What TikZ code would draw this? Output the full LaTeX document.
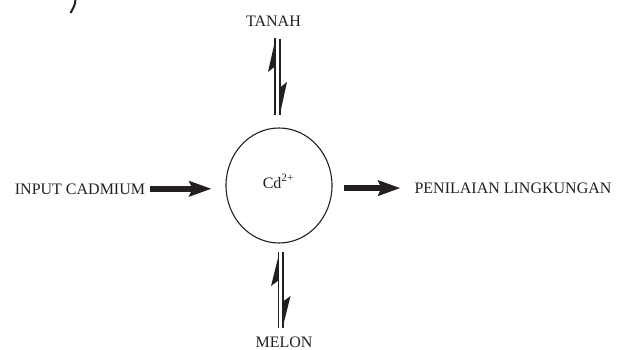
\documentclass[tikz,border=0pt]{standalone}
\usepackage{fontspec}
\setmainfont{Liberation Serif}
\usetikzlibrary{arrows.meta,shapes.geometric}
\definecolor{ink}{HTML}{231F20}
\tikzset{
  lbl/.style={inner sep=0pt, anchor=base, font=\fontsize{16}{18}\selectfont, text=ink},
  fatarrow/.style={draw=ink, line width=6.5pt, -{Stealth[length=22pt,width=15pt,inset=3pt]}},
  eqline/.style={draw=ink, line width=1.3pt},
  barb/.style={fill=ink, draw=none},
}
\begin{document}
\begin{tikzpicture}[x=1pt,y=-1pt]
\useasboundingbox (0,0) rectangle (618,350);

% fragment of a closing parenthesis at the top edge
\draw[ink, line width=2pt] (75.5,0) .. controls (74.5,6) .. (70.5,13);

% central species
\node[draw=ink, ellipse, line width=1.1pt, minimum width=106pt, minimum height=115pt, inner sep=0pt] (cd) at (279,185.5) {};
\node[lbl] (cdlabel) at (278.3,188) {Cd\textsuperscript{2+}};

% surrounding labels
\node[lbl] (tanah) at (273.5,27) {TANAH};
\node[lbl] (melon) at (284,347.5) {MELON};
\node[lbl] (input) at (80,194) {INPUT CADMIUM};
\node[lbl] (pen) at (513,193.3) {PENILAIAN LINGKUNGAN};

% one-way fluxes
\draw[fatarrow, shorten <=5pt, shorten >=14pt] (input.east) -- (input.east -| cd.west);
\draw[fatarrow, shorten <=11pt, shorten >=14pt] (cd.east |- pen.west) -- (pen.west);

% equilibrium between soil and Cd
\coordinate (ta) at (275,38);  \coordinate (tb) at (275,115);
\coordinate (tc) at (280,39);  \coordinate (td) at (280,115);
\draw[eqline] (ta) -- (tb);
\draw[eqline] (tc) -- (td);
\fill[barb] (275,41) -- (268,72) -- (275,66.5) -- cycle;
\fill[barb] (280,114) -- (287,82) -- (280,87.5) -- cycle;

% equilibrium between Cd and melon
\coordinate (ma) at (278.5,252); \coordinate (mb) at (278.5,328);
\coordinate (mc) at (283,252);   \coordinate (md) at (283,328);
\draw[eqline] (ma) -- (mb);
\draw[eqline] (mc) -- (md);
\fill[barb] (278.5,256) -- (271,286) -- (278.5,280.5) -- cycle;
\fill[barb] (283,326) -- (290.5,296) -- (283,301.5) -- cycle;
\end{tikzpicture}
\end{document}
